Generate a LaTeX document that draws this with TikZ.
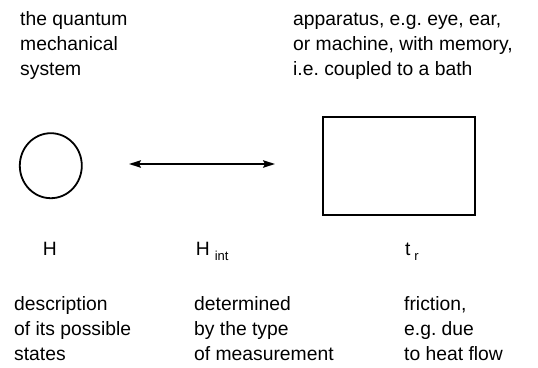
\documentclass[tikz,border=0pt]{standalone}
\usepackage{fontspec}
\setmainfont{Liberation Sans}
\frenchspacing
\usetikzlibrary{arrows.meta,shapes.geometric}
\tikzset{
  txt/.style={anchor=base west, inner sep=0pt, font=\fontsize{19.3}{24.8}\selectfont},
  shapeline/.style={draw, line width=1.8pt},
  conn/.style={line width=1.5pt, {Stealth[length=12pt,width=7.5pt,inset=2pt]}-{Stealth[length=12pt,width=7.5pt,inset=2pt]}}
}
\newcommand{\blk}[1]{\begin{tabular}[t]{@{}l@{}}#1\end{tabular}}
\newcommand{\subtxt}[1]{\raisebox{-5pt}{\fontsize{13}{13}\selectfont #1}}
\begin{document}
\begin{tikzpicture}[x=1pt,y=-1pt]
\useasboundingbox (0,0) rectangle (538,367);
% top texts
\node[txt] (systxt) at (20,25.7) {\blk{the quantum\\mechanical\\system}};
\node[txt] (apptxt) at (293,25.7) {\blk{apparatus, e.g. eye, ear,\\or machine, with memory,\\i.e. coupled to a bath}};
% shapes
\node[shapeline, ellipse, minimum width=62pt, minimum height=65pt, inner sep=0pt] (sys) at (50.8,165.7) {};
\node[shapeline, rectangle, minimum width=152pt, minimum height=98pt, inner sep=0pt] (app) at (399.3,165.7) {};
\coordinate (la) at (129,164);
\coordinate (ra) at (275,164);
\draw[conn] (la) -- (ra);
% labels
\node[txt] (hlab) at (42.7,255) {H};
\node[txt] (hint) at (195.7,255) {H\hspace{5pt}\subtxt{int}};
\node[txt] (tr) at (404.8,255) {t\hspace{4pt}\subtxt{r}};
% bottom texts
\node[txt] (d1) at (14,310.5) {\blk{description\\of its possible\\states}};
\node[txt] (d2) at (194,310.5) {\blk{determined\\by the type\\of measurement}};
\node[txt] (d3) at (404,310.5) {\blk{friction,\\e.g. due\\to heat flow}};
\end{tikzpicture}
\end{document}
